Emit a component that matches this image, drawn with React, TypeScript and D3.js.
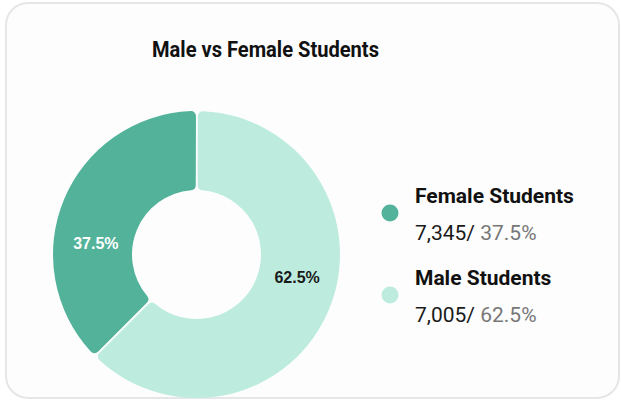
import React from 'react';
import * as d3 from 'd3';

const categories = ['Female Students', 'Male Students'];
const counts = [7345, 7005];
const percents = [37.5, 62.5];
const colors = ['#52B29A', '#BDECDF'];
const labelColors = ['#ffffff', '#1a1a1a'];
const title = 'Male vs Female Students';

const App = () => {
  const width = 621;
  const height = 401;
  const cx = 196.5;
  const cy = 254.5;
  const outer = 143.5;
  const inner = 64.5;
  const labelR = 102;
  const labelShift = -0.23;

  const data = categories.map((c, i) => ({ name: c, count: counts[i], pct: percents[i], color: colors[i], label: labelColors[i] }));

  const pie = d3
    .pie<any>()
    .sort(null)
    .value(d => d.pct)
    .startAngle(Math.PI * 1.25)
    .endAngle(Math.PI * 3.25)
    .padAngle(0.012);

  const arc = d3.arc<any>().innerRadius(inner).outerRadius(outer).cornerRadius(5);
  const arcs = pie(data);

  const fmt = d3.format(',');

  return (
    <svg
      width={width}
      height={height}
      viewBox={`0 0 ${width} ${height}`}
      style={{ position: 'absolute', left: 0, top: 0 }}
    >
      <rect x={6} y={3} width={613} height={395} rx={22} fill='#fdfdfd' stroke='#e6e6e6' strokeWidth={2} />
      <text
        x={152}
        y={57}
        fontFamily='Roboto'
        fontWeight='bold'
        fontSize={22.5}
        textLength={227}
        lengthAdjust='spacingAndGlyphs'
        fill='#111'
      >
        {title}
      </text>
      <g transform={`translate(${cx}, ${cy})`}>
        {arcs.map((a, i) => (
          <path key={`slice-${i}`} d={arc(a) || ''} fill={a.data.color} />
        ))}
        {arcs.map((a, i) => {
          const mid = (a.startAngle + a.endAngle) / 2 + labelShift;
          return (
            <text
              key={`lbl-${i}`}
              x={labelR * Math.sin(mid)}
              y={-labelR * Math.cos(mid) + 6}
              textAnchor='middle'
              dominantBaseline='central'
              fontFamily='Liberation Sans, Arial'
              fontWeight='bold'
              fontSize={16}
              fill={a.data.label}
            >
              {a.data.pct}%
            </text>
          );
        })}
      </g>
      {data.map((d, i) => {
        const y0 = 203 + i * 82;
        return (
          <g key={`leg-${i}`}>
            <circle cx={390} cy={y0 + 10} r={8.5} fill={d.color} />
            <text x={415} y={y0} fontFamily='Roboto' fontWeight='bold' fontSize={21} fill='#111'>
              {d.name}
            </text>
            <text x={415} y={y0 + 37} fontFamily='Roboto' fontSize={21} fill='#1a1a1a'>
              {fmt(d.count)}/ <tspan fill='#777'>{d.pct}%</tspan>
            </text>
          </g>
        );
      })}
    </svg>
  );
};

export default App;
